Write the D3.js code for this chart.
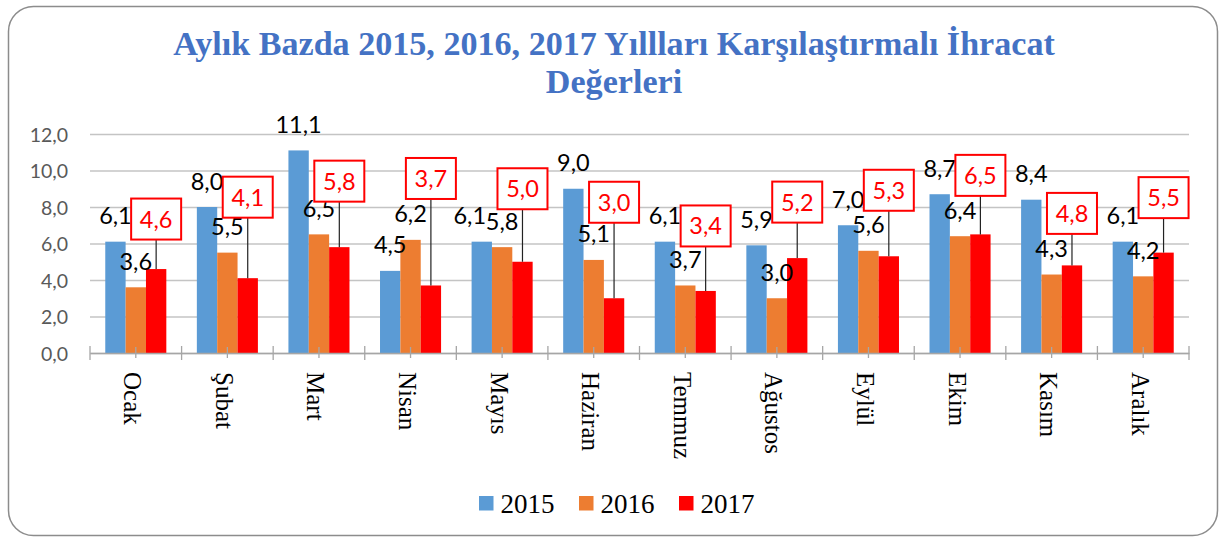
<!DOCTYPE html>
<html>
<head>
<meta charset="utf-8">
<script src="https://cdn.jsdelivr.net/npm/d3@7"></script>
<style>
  body { margin: 0; background: #fff; }
  svg { display: block; }
</style>
</head>
<body>
<div id="chart"></div>
<script>

// the data
var months = ["Ocak", "Şubat", "Mart", "Nisan", "Mayıs", "Haziran", "Temmuz", "Ağustos", "Eylül", "Ekim", "Kasım", "Aralık"];
var years = ["2015", "2016", "2017"];
var v2015 = [6.1, 8.0, 11.1, 4.5, 6.1, 9.0, 6.1, 5.9, 7.0, 8.7, 8.4, 6.1];
var v2016 = [3.6, 5.5, 6.5, 6.2, 5.8, 5.1, 3.7, 3.0, 5.6, 6.4, 4.3, 4.2];
var v2017 = [4.6, 4.1, 5.8, 3.7, 5.0, 3.0, 3.4, 5.2, 5.3, 6.5, 4.8, 5.5];
var yTicks = [0, 2, 4, 6, 8, 10, 12];
var titleLines = ["Aylık Bazda 2015, 2016, 2017 Yıllları Karşılaştırmalı İhracat", "Değerleri"];

// the boxed 2017 labels were dragged by hand, this is how far above the bar (px)
var boxLift = [50, 81, 66, 107, 73, 96, 65, 56, 66, 59, 52, 55];
// small sideways nudge of the 2015 labels (Mayıs one sits left of its bar)
var nudge2015 = [0, 0, 0, 0, -12, 0, 0, 0, 0, 0, 0, 0];

var colors = {"2015": "#5B9BD5", "2016": "#ED7D31", "2017": "#FF0000"};
var values = {"2015": v2015, "2016": v2016, "2017": v2017};

// comma as decimal mark
var fmt = d3.formatLocale({decimal: ",", thousands: ".", grouping: [3], currency: ["", ""]}).format(".1f");

var W = 1219, H = 539;
var plot = {left: 90, right: 1189, top: 134, bottom: 353};
var lblSize = 23.5;

var svg = d3.select("#chart").append("svg")
    .attr("width", W)
    .attr("height", H);

// chart frame
svg.append("rect")
    .attr("x", 8.5).attr("y", 6.5)
    .attr("width", 1209).attr("height", 529)
    .attr("rx", 25).attr("ry", 25)
    .attr("fill", "#fff")
    .attr("stroke", "#8c8c8c")
    .attr("stroke-width", 1.5);

// title
var title = svg.append("g")
    .attr("font-family", "'Liberation Serif', serif")
    .attr("font-weight", "bold")
    .attr("fill", "#4472C4")
    .attr("text-anchor", "middle");

var t1 = title.append("text")
    .attr("x", 614).attr("y", 55)
    .attr("font-size", 32)
    .text(titleLines[0]);
var fs = 32 * 882 / t1.node().getComputedTextLength();
fs = Math.max(28, Math.min(36, fs));
t1.attr("font-size", fs);
title.append("text")
    .attr("x", 614).attr("y", 93)
    .attr("font-size", fs)
    .text(titleLines[1]);

// scales
var x = d3.scaleBand()
    .domain(months)
    .range([plot.left, plot.right])
    .padding(0);

var bw = x.bandwidth();
var barW = bw / 4.5;   // gap width 150%
var xi = d3.scaleBand()
    .domain(years)
    .range([barW * 0.75, bw - barW * 0.75])
    .padding(0);

var y = d3.scaleLinear()
    .domain([0, 12])
    .range([plot.bottom, plot.top]);

function cx(yr, i) { return x(months[i]) + xi(yr) + xi.bandwidth() / 2; }

// y axis: gridlines + labels
var yAxis = svg.append("g")
    .attr("transform", "translate(" + plot.left + ",0)")
    .call(d3.axisLeft(y)
        .tickValues(yTicks)
        .tickFormat(fmt)
        .tickSize(-(plot.right - plot.left))
        .tickPadding(22));
yAxis.select(".domain").remove();
yAxis.selectAll(".tick line")
    .attr("stroke", "#C4C4C4")
    .attr("stroke-width", 1.3);
yAxis.selectAll(".tick text")
    .attr("font-family", "Lato, sans-serif")
    .attr("font-size", 19.5)
    .attr("fill", "#595959")
    .attr("dy", "0.36em");

// bars
years.forEach(function(yr) {
  svg.selectAll(".bar" + yr)
      .data(values[yr])
    .enter().append("rect")
      .attr("class", "bar" + yr)
      .attr("x", function(d, i) { return x(months[i]) + xi(yr); })
      .attr("y", function(d) { return y(d); })
      .attr("width", xi.bandwidth())
      .attr("height", function(d) { return y(0) - y(d); })
      .attr("fill", colors[yr]);
});

// x axis
var xAxis = svg.append("g")
    .attr("transform", "translate(0," + plot.bottom + ")")
    .call(d3.axisBottom(x).tickSize(5).tickSizeOuter(0));
xAxis.select(".domain")
    .attr("stroke", "#A6A6A6")
    .attr("stroke-width", 1.3);
xAxis.selectAll(".tick line")
    .attr("y1", -6)
    .attr("y2", 5)
    .attr("stroke", "#A6A6A6")
    .attr("stroke-width", 1.3);
xAxis.selectAll(".tick text")
    .attr("x", 0).attr("y", 0).attr("dy", null)
    .attr("transform", "translate(-3,19) rotate(90)")
    .attr("text-anchor", "start")
    .attr("dominant-baseline", "central")
    .attr("font-family", "'Liberation Serif', serif")
    .attr("font-size", 25)
    .attr("fill", "#000");

// ticks between the categories
var bounds = months.map(function(m) { return x(m); }).concat([x.range()[1]]);
xAxis.selectAll(".bound")
    .data(bounds)
  .enter().append("line")
    .attr("class", "bound")
    .attr("x1", function(d) { return d; })
    .attr("x2", function(d) { return d; })
    .attr("y1", -7)
    .attr("y2", 7)
    .attr("stroke", "#A6A6A6")
    .attr("stroke-width", 1.3);

// plain labels for 2015 and 2016
["2015", "2016"].forEach(function(yr) {
  svg.selectAll(".lbl" + yr)
      .data(values[yr])
    .enter().append("text")
      .attr("class", "lbl" + yr)
      .attr("x", function(d, i) { return cx(yr, i) + (yr == "2015" ? nudge2015[i] : 0); })
      .attr("y", function(d) { return y(d) - 26 + 8.5; })
      .attr("text-anchor", "middle")
      .attr("font-family", "Lato, sans-serif")
      .attr("font-size", lblSize)
      .attr("fill", "#000")
      .text(fmt);
});

// boxed labels with leader lines for 2017
var boxW = 50, boxH = 41;
var box = svg.selectAll(".box")
    .data(v2017)
  .enter().append("g")
    .attr("class", "box");

box.append("line")
    .attr("x1", function(d, i) { return cx("2017", i); })
    .attr("x2", function(d, i) { return cx("2017", i); })
    .attr("y1", function(d, i) { return y(d) - boxLift[i] + boxH / 2; })
    .attr("y2", function(d) { return y(d); })
    .attr("stroke", "#222")
    .attr("stroke-width", 1.2);

box.append("rect")
    .attr("x", function(d, i) { return cx("2017", i) - boxW / 2; })
    .attr("y", function(d, i) { return y(d) - boxLift[i] - boxH / 2; })
    .attr("width", boxW)
    .attr("height", boxH)
    .attr("fill", "#fff")
    .attr("stroke", "#FF0000")
    .attr("stroke-width", 2);

box.append("text")
    .attr("x", function(d, i) { return cx("2017", i); })
    .attr("y", function(d, i) { return y(d) - boxLift[i] + 8.5; })
    .attr("text-anchor", "middle")
    .attr("font-family", "Lato, sans-serif")
    .attr("font-size", lblSize)
    .attr("fill", "#FF0000")
    .text(fmt);

// legend
var legend = svg.selectAll(".legend")
    .data(years)
  .enter().append("g")
    .attr("class", "legend")
    .attr("transform", function(d, i) { return "translate(" + (479 + i * 100) + ",496)"; });

legend.append("rect")
    .attr("width", 14.5)
    .attr("height", 14.5)
    .attr("fill", function(d) { return colors[d]; });

legend.append("text")
    .attr("x", 21.5)
    .attr("y", 16.5)
    .attr("font-family", "'Liberation Serif', serif")
    .attr("font-size", 27)
    .attr("fill", "#000")
    .text(function(d) { return d; });

</script>
</body>
</html>
